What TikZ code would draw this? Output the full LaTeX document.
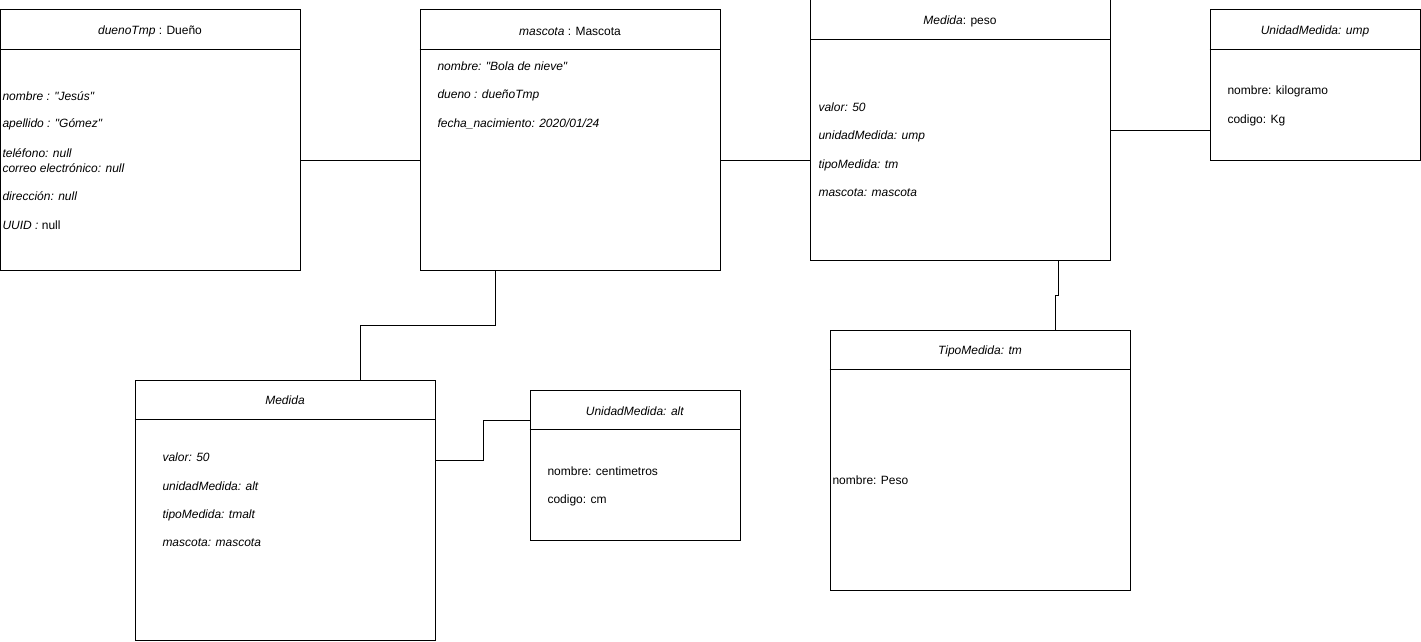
\documentclass[tikz,border=0pt]{standalone}
\usepackage{fontspec}
\setmainfont{Liberation Sans}
\begin{document}
\begin{tikzpicture}[x=1pt, y=-1pt, line width=1pt,
  caja/.style={draw, rectangle, inner sep=0pt, minimum width=300pt, minimum height=260pt},
  cajita/.style={caja, minimum width=210pt, minimum height=150pt},
  titulo/.style={inner sep=0pt, font=\fontsize{12}{14}\selectfont},
  attr/.style={anchor=west, inner sep=0pt, font=\fontsize{12}{14}\selectfont}]
 \useasboundingbox (0,0) rectangle (1421,642);
 \node [caja] (dueno) at (150.5,140) {};
 \node [caja] (mascota) at (570,140) {};
 \node [caja] (peso) at (960.5,130) {};
 \node [cajita] (ump) at (1315,85) {};
 \node [caja] (medida) at (285,510) {};
 \node [cajita] (alt) at (635,465) {};
 \node [caja] (tm) at (980,460) {};

 \draw ([yshift=-40pt]dueno.north west) -- ([yshift=-40pt]dueno.north east);
 \draw ([yshift=-40pt]mascota.north west) -- ([yshift=-40pt]mascota.north east);
 \draw ([yshift=-40pt]peso.north west) -- ([yshift=-40pt]peso.north east);
 \draw ([yshift=-40pt]ump.north west) -- ([yshift=-40pt]ump.north east);
 \draw ([yshift=-40pt]medida.north west) -- ([yshift=-40pt]medida.north east);
 \draw ([yshift=-40pt]alt.north west) -- ([yshift=-40pt]alt.north east);
 \draw ([yshift=-40pt]tm.north west) -- ([yshift=-40pt]tm.north east);

 \node [titulo] (duenoT) at (150,31) {\textit{duenoTmp} : Dueño};
 \node [attr] (d1) at (2,96) {\textit{nombre : \textquotedbl Jesús\textquotedbl}};
 \node [attr] (d2) at (2,124) {\textit{apellido : \textquotedbl Gómez\textquotedbl}};
 \node [attr] (d3) at (2,153) {\textit{teléfono: null}};
 \node [attr] (d4) at (2,168) {\textit{correo electrónico: null}};
 \node [attr] (d5) at (2,196) {\textit{dirección: null}};
 \node [attr] (d6) at (2,225) {\textit{UUID :} null};

 \node [titulo] (mascotaT) at (570,31) {\textit{mascota} : Mascota};
 \node [attr] (m1) at (437,66) {\textit{nombre: \textquotedbl Bola de nieve\textquotedbl}};
 \node [attr] (m2) at (437,95) {\textit{dueno : dueñoTmp}};
 \node [attr] (m3) at (437,124) {\textit{fecha\_nacimiento: 2020/01/24}};

 \node [titulo] (pesoT) at (960,21) {\textit{Medida}: peso};
 \node [attr] (p1) at (818,107) {\textit{valor: 50}};
 \node [attr] (p2) at (818,136) {\textit{unidadMedida: ump}};
 \node [attr] (p3) at (818,165) {\textit{tipoMedida: tm}};
 \node [attr] (p4) at (818,193) {\textit{mascota: mascota}};

 \node [titulo] (umpT) at (1315,31) {\textit{UnidadMedida: ump}};
 \node [attr] (u1) at (1227,91) {nombre: kilogramo};
 \node [attr] (u2) at (1227,120) {codigo: Kg};

 \node [titulo] (medidaT) at (285,400) {\textit{Medida}};
 \node [attr] (e1) at (162,457) {\textit{valor: 50}};
 \node [attr] (e2) at (162,486) {\textit{unidadMedida: alt}};
 \node [attr] (e3) at (162,515) {\textit{tipoMedida: tmalt}};
 \node [attr] (e4) at (162,543) {\textit{mascota: mascota}};

 \node [titulo] (altT) at (635,411) {\textit{UnidadMedida: alt}};
 \node [attr] (a1) at (547,471) {nombre: centimetros};
 \node [attr] (a2) at (547,500) {codigo: cm};

 \node [titulo] (tmT) at (980,351) {\textit{TipoMedida: tm}};
 \node [attr] (t1) at (832,480) {nombre: Peso};

 \draw ([yshift=-20pt]dueno.east) -- ([yshift=-20pt]mascota.west);
 \draw ([yshift=-20pt]mascota.east) -- ([yshift=-20pt]mascota.east -| peso.west);
 \draw (peso.east) -- (peso.east -| ump.west);
 \draw ([xshift=98pt]peso.south) -- ++(0,35) -| ([xshift=75pt]tm.north);
 \draw ([xshift=-75pt]mascota.south) -- ++(0,55) -| ([xshift=75pt]medida.north);
 \draw ([yshift=50pt]medida.east) -- ++(48,0) |- ([yshift=45pt]alt.west);
\end{tikzpicture}
\end{document}
